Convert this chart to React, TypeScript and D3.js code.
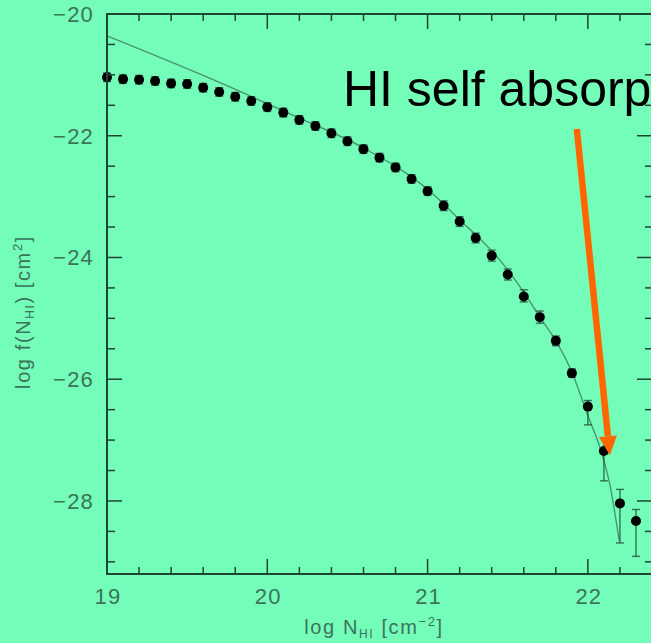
import React from 'react'
import * as d3 from 'd3'

// column density bins (log N_HI) and measured log f(N_HI)
const logN = [
  19.0, 19.1, 19.2, 19.3, 19.4, 19.5, 19.6, 19.7, 19.8, 19.9, 20.0, 20.1, 20.2, 20.3, 20.4, 20.5, 20.6,
  20.7, 20.8, 20.9, 21.0, 21.1, 21.2, 21.3, 21.4, 21.5, 21.6, 21.7, 21.8, 21.9, 22.0, 22.1, 22.2, 22.3,
]
const logF = [
  -21.04, -21.07, -21.08, -21.1, -21.14, -21.15, -21.21, -21.28, -21.36, -21.43, -21.53, -21.62, -21.74,
  -21.84, -21.96, -22.09, -22.22, -22.36, -22.52, -22.71, -22.91, -23.15, -23.41, -23.68, -23.97, -24.28,
  -24.64, -24.98, -25.37, -25.9, -26.45, -27.18, -28.04, -28.33,
]
const errUp = [
  0.07, 0.07, 0.07, 0.07, 0.07, 0.07, 0.07, 0.07, 0.07, 0.07, 0.07, 0.07, 0.07, 0.07, 0.07, 0.07, 0.07,
  0.07, 0.07, 0.07, 0.07, 0.08, 0.08, 0.08, 0.09, 0.09, 0.11, 0.1, 0.08, 0.07, 0.1, 0.22, 0.23, 0.19,
]
const errDown = [
  0.07, 0.07, 0.07, 0.07, 0.07, 0.07, 0.07, 0.07, 0.07, 0.07, 0.07, 0.07, 0.07, 0.07, 0.07, 0.07, 0.07,
  0.07, 0.07, 0.07, 0.07, 0.08, 0.08, 0.08, 0.09, 0.09, 0.09, 0.1, 0.08, 0.07, 0.3, 0.49, 0.65, 0.58,
]

// fitted curve
const fitN = [19.0, 19.6, 20.2, 20.6, 21.0, 21.2, 21.45, 21.6, 21.7, 21.8, 21.9, 22.0, 22.075, 22.14, 22.195]
const fitF = [
  -20.36, -21.01, -21.71, -22.2, -22.88, -23.38, -24.04, -24.57, -24.98, -25.37, -25.88, -26.6, -27.12,
  -27.77, -28.65,
]

const xTicks = [19, 20, 21, 22]
const yTicks = [-20, -22, -24, -26, -28]

const W = 651
const H = 643
const bg = '#74fcb9'
const axisColor = '#1f4434'
const labelColor = '#3c735b'
const lineColor = '#4a9570'
const font = 'Liberation Sans, Arial, Helvetica, sans-serif'

export default function App() {
  const x = d3.scaleLinear().domain([19, 22.4]).range([107, 652])
  const y = d3.scaleLinear().domain([-29.2, -20]).range([574, 14])

  const [x0, x1] = x.range()
  const [y0, y1] = y.range()

  const xMinor = d3.range(19, 22.41, 0.2).filter(v => !xTicks.some(t => Math.abs(t - v) < 1e-6))
  const yMinor = d3.range(-29, -19.9, 0.5).filter(v => !yTicks.some(t => Math.abs(t - v) < 1e-6))

  const fitLine = d3
    .line<number>()
    .x((_, i) => x(fitN[i]))
    .y(d => y(d))
    .curve(d3.curveMonotoneX)

  const minus = (v: number) => (v < 0 ? '\u2212' + Math.abs(v) : String(v))

  // annotation arrow in data coords
  const aFrom = [x(21.931), y(-21.89)]
  const aTo = [x(22.137), y(-27.25)]
  const ang = Math.atan2(aTo[1] - aFrom[1], aTo[0] - aFrom[0])
  const headLen = 19
  const headHalf = 9
  const base = [aTo[0] - headLen * Math.cos(ang), aTo[1] - headLen * Math.sin(ang)]
  const perp = [-Math.sin(ang), Math.cos(ang)]

  return (
    <svg
      width={W}
      height={H}
      style={{ position: 'absolute', left: 0, top: 0, background: bg }}
      fontFamily={font}
    >
      <rect width={W} height={H} fill={bg} />

      {/* fit curve */}
      <path d={fitLine(fitF) || ''} fill="none" stroke={lineColor} strokeWidth={1.4} />

      {/* error bars */}
      <g stroke={axisColor} strokeOpacity={0.75} strokeWidth={1.4}>
        {logN.map((n, i) => {
          const cx = x(n)
          const top = y(logF[i] + errUp[i])
          const bot = y(logF[i] - errDown[i])
          return (
            <g key={i}>
              <line x1={cx} x2={cx} y1={top} y2={bot} />
              <line x1={cx - 4} x2={cx + 4} y1={top} y2={top} />
              <line x1={cx - 4} x2={cx + 4} y1={bot} y2={bot} />
            </g>
          )
        })}
      </g>

      {/* data points */}
      <g fill="#000">
        {logN.map((n, i) => (
          <circle key={i} cx={x(n)} cy={y(logF[i])} r={5} />
        ))}
      </g>

      {/* frame */}
      <rect x={x0} y={y1} width={x1 - x0} height={y0 - y1} fill="none" stroke={axisColor} strokeWidth={2} />

      {/* ticks */}
      <g stroke={axisColor} strokeWidth={1.5}>
        {xTicks.map(t => (
          <g key={'xt' + t}>
            <line x1={x(t)} x2={x(t)} y1={y0} y2={y0 - 15} />
            <line x1={x(t)} x2={x(t)} y1={y1} y2={y1 + 15} />
          </g>
        ))}
        {xMinor.map(t => (
          <g key={'xm' + t}>
            <line x1={x(t)} x2={x(t)} y1={y0} y2={y0 - 7} />
            <line x1={x(t)} x2={x(t)} y1={y1} y2={y1 + 7} />
          </g>
        ))}
        {yTicks.map(t => (
          <g key={'yt' + t}>
            <line x1={x0} x2={x0 + 15} y1={y(t)} y2={y(t)} />
            <line x1={x1} x2={x1 - 15} y1={y(t)} y2={y(t)} />
          </g>
        ))}
        {yMinor.map(t => (
          <g key={'ym' + t}>
            <line x1={x0} x2={x0 + 8} y1={y(t)} y2={y(t)} />
            <line x1={x1} x2={x1 - 7} y1={y(t)} y2={y(t)} />
          </g>
        ))}
      </g>

      {/* tick labels */}
      <g fill={labelColor} fontSize={22} letterSpacing={1.2}>
        {xTicks.map(t => (
          <text key={'xl' + t} x={x(t) + 1} y={604} textAnchor="middle">
            {t}
          </text>
        ))}
        {yTicks.map(t => (
          <text key={'yl' + t} x={94} y={y(t) + 8} textAnchor="end">
            {minus(t)}
          </text>
        ))}
      </g>

      {/* axis titles */}
      <text x={374} y={634} textAnchor="middle" fill={labelColor} fontSize={20} letterSpacing={1.6}>
        log{'  '}N
        <tspan fontSize={12} dy={4}>
          HI
        </tspan>
        <tspan dy={-4}>{'  '}[cm</tspan>
        <tspan fontSize={13} dy={-8}>
          {'\u22122'}
        </tspan>
        <tspan dy={8}>]</tspan>
      </text>
      <text
        transform={`translate(30,312) rotate(-90)`}
        textAnchor="middle"
        fill={labelColor}
        fontSize={20}
        letterSpacing={1.6}
      >
        log{'  '}f(N
        <tspan fontSize={12} dy={4}>
          HI
        </tspan>
        <tspan dy={-4}>){'  '}[cm</tspan>
        <tspan fontSize={13} dy={-8}>
          2
        </tspan>
        <tspan dy={8}>]</tspan>
      </text>

      {/* annotation */}
      <text x={x(20.472)} y={y(-21.51)} fontSize={50} fill="#000" fontFamily="Liberation Sans, Arial, sans-serif">
        HI self absorption
      </text>
      <line x1={aFrom[0]} y1={aFrom[1]} x2={base[0]} y2={base[1]} stroke="#ff6600" strokeWidth={6.5} />
      <polygon
        fill="#ff6600"
        points={[
          [aTo[0], aTo[1]],
          [base[0] + perp[0] * headHalf, base[1] + perp[1] * headHalf],
          [base[0] - perp[0] * headHalf, base[1] - perp[1] * headHalf],
        ]
          .map(p => p.join(','))
          .join(' ')}
      />
    </svg>
  )
}
